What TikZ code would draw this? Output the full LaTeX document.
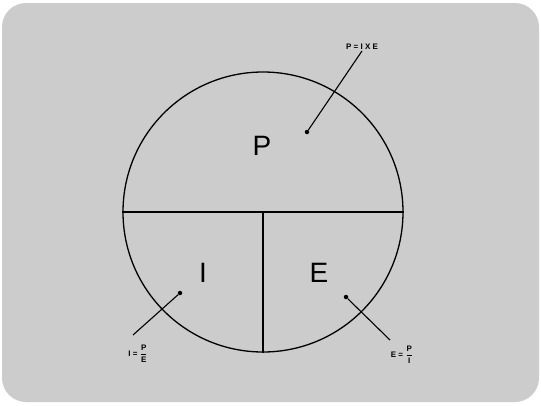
\documentclass[tikz,border=0pt]{standalone}
\usepackage{fontspec}
\setsansfont{Liberation Sans}
\usetikzlibrary{positioning}

\begin{document}
\begin{tikzpicture}[
  x=1pt, y=-1pt,
  panel/.style={fill=black!20, draw=none, rounded corners=24pt},
  part/.style={font=\sffamily\fontsize{28}{28}\selectfont, inner sep=0pt},
  formula/.style={font=\sffamily\bfseries\fontsize{8}{8}\selectfont, inner sep=1pt},
  leader/.style={line width=1.1pt},
  dotmark/.style={circle, fill=black, inner sep=0pt, minimum size=4.5pt}
]
\useasboundingbox (0,0) rectangle (541,405);
\fill[white] (0,0) rectangle (541,405);
\path[panel] (2,3) rectangle (539,402);

% the circle and its split
\node[circle, draw, line width=1.3pt, minimum size=280pt, inner sep=0pt] (whole) at (263,212) {};
\draw[line width=1.3pt] (whole.west) -- (whole.east);
\draw[line width=1.3pt] (whole.center) -- (whole.south);

\node[part] (P) at (262,146) {P};
\node[part] (I) at (203,273) {I};
\node[part] (E) at (319,273) {E};

% pointers to the formulas
\node[dotmark] (dotP) at (307,132) {};
\node[dotmark] (dotI) at (180,293) {};
\node[dotmark] (dotE) at (346,297) {};

\node[formula] (eqP) at (362,47) {P = I X E};
\node[formula] (eqI) at (138,354) {I = $\displaystyle\frac{\textsf{P}}{\textsf{E}}$};
\node[formula] (eqE) at (402,355) {E = $\displaystyle\frac{\textsf{P}}{\textsf{I}}$};
\coordinate (endI) at (133,335);
\coordinate (endE) at (390,340);

\draw[leader] (dotP) -- (eqP.south);
\draw[leader] (dotI) -- (endI);
\draw[leader] (dotE) -- (endE);
\end{tikzpicture}
\end{document}
